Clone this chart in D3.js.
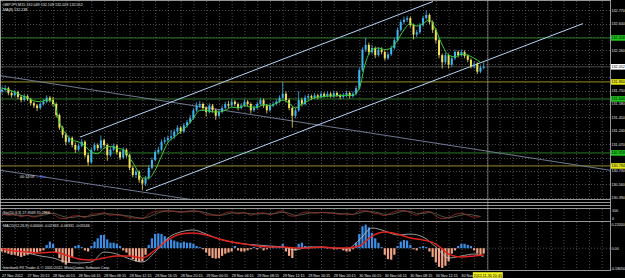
<!DOCTYPE html>
<html>
<head>
<meta charset="utf-8">
<script src="https://cdn.jsdelivr.net/npm/d3@7"></script>
<style>
html, body { margin: 0; padding: 0; background: #000; overflow: hidden; }
svg { display: block; }
text { font-family: "Liberation Sans", Arial, sans-serif; }
</style>
</head>
<body>
<div id="chart"></div>
<script>
// price bars (one per bar, open = previous close)
const firstOpen = 131.74;
const closes = [
  131.76,131.78,131.72,131.69,131.73,131.67,131.63,131.68,131.64,131.59,
  131.56,131.53,131.58,131.61,131.66,131.63,131.58,131.44,131.28,131.19,
  131.10,131.15,131.06,131.00,131.05,131.10,130.93,130.84,131.00,131.06,
  131.02,131.12,131.06,130.93,131.00,131.05,130.97,130.90,131.00,130.93,
  130.77,130.68,130.72,130.62,130.57,130.64,130.77,130.87,130.97,131.00,
  131.10,131.12,131.15,131.17,131.23,131.28,131.23,131.31,131.35,131.40,
  131.50,131.56,131.58,131.53,131.48,131.56,131.50,131.43,131.48,131.53,
  131.58,131.56,131.61,131.58,131.53,131.56,131.61,131.58,131.50,131.53,
  131.58,131.63,131.56,131.50,131.56,131.58,131.61,131.66,131.71,131.63,
  131.53,131.43,131.50,131.63,131.58,131.66,131.68,131.66,131.69,131.67,
  131.71,131.68,131.71,131.68,131.72,131.69,131.67,131.69,131.72,131.68,
  131.71,131.78,132.01,132.27,132.33,132.24,132.29,132.20,132.27,132.24,
  132.16,132.21,132.29,132.39,132.52,132.62,132.65,132.67,132.58,132.46,
  132.49,132.58,132.67,132.71,132.62,132.52,132.39,132.20,132.11,132.20,
  132.08,132.16,132.24,132.20,132.24,132.19,132.14,132.06,132.09,131.99,
  132.04,132.05
];
const highs = [
  131.80,131.82,131.80,131.75,131.76,131.75,131.69,131.71,131.70,131.66,
  131.61,131.58,131.60,131.64,131.69,131.68,131.67,131.60,131.46,131.30,
  131.22,131.18,131.17,131.09,131.08,131.14,131.12,130.96,131.03,131.09,
  131.08,131.18,131.14,131.08,131.03,131.08,131.07,130.99,131.03,131.02,
  130.95,130.79,130.75,130.74,130.64,130.67,130.80,130.90,131.00,131.04,
  131.13,131.16,131.18,131.25,131.26,131.31,131.30,131.34,131.38,131.44,
  131.53,131.60,131.62,131.60,131.55,131.59,131.58,131.52,131.51,131.56,
  131.61,131.62,131.64,131.63,131.60,131.59,131.64,131.63,131.60,131.56,
  131.61,131.66,131.65,131.58,131.59,131.61,131.64,131.69,131.86,131.74,
  131.65,131.55,131.53,131.74,131.66,131.69,131.71,131.70,131.72,131.71,
  131.74,131.73,131.74,131.73,131.75,131.74,131.71,131.72,131.75,131.74,
  131.74,131.81,132.04,132.30,132.42,132.36,132.33,132.31,132.30,132.30,
  132.26,132.24,132.32,132.42,132.55,132.65,132.69,132.70,132.69,132.60,
  132.52,132.61,132.70,132.77,132.73,132.64,132.54,132.41,132.22,132.23,
  132.22,132.19,132.27,132.26,132.27,132.26,132.21,132.16,132.12,132.11,
  132.07,132.11
];
const lows = [
  131.71,131.73,131.69,131.66,131.67,131.64,131.60,131.61,131.62,131.56,
  131.53,131.49,131.51,131.56,131.59,131.60,131.55,131.41,131.25,131.15,
  131.06,131.08,131.03,130.96,130.98,131.03,130.90,130.80,130.82,130.98,
  130.99,131.00,131.03,130.86,130.91,130.98,130.94,130.87,130.88,130.90,
  130.74,130.65,130.64,130.58,130.49,130.54,130.62,130.75,130.85,130.94,
  130.98,131.07,131.09,131.12,131.14,131.20,131.20,131.21,131.28,131.33,
  131.38,131.48,131.53,131.50,131.42,131.46,131.47,131.38,131.41,131.46,
  131.51,131.53,131.54,131.55,131.50,131.51,131.54,131.55,131.46,131.48,
  131.51,131.56,131.53,131.46,131.48,131.54,131.56,131.59,131.64,131.60,
  131.50,131.28,131.40,131.48,131.55,131.56,131.63,131.63,131.64,131.64,
  131.65,131.66,131.66,131.66,131.66,131.67,131.64,131.65,131.67,131.65,
  131.66,131.69,131.76,131.99,132.24,132.20,132.21,132.16,132.18,132.21,
  132.13,132.14,132.19,132.27,132.37,132.50,132.59,132.62,132.55,132.40,
  132.43,132.47,132.56,132.65,132.59,132.48,132.35,132.16,132.03,132.08,
  132.03,132.05,132.14,132.17,132.18,132.16,132.11,132.03,132.03,131.96,
  131.97,132.02
];

// moving average, read every 2 bars
const maValues = [
  131.78,131.76,131.73,131.69,131.66,131.62,131.61,131.63,131.61,131.35,
  131.20,131.12,131.10,131.05,130.97,130.95,131.02,131.04,131.02,131.00,
  130.90,130.77,130.64,130.64,130.74,130.92,131.09,131.16,131.23,131.30,
  131.40,131.50,131.50,131.48,131.48,131.50,131.54,131.53,131.56,131.54,
  131.54,131.57,131.56,131.59,131.63,131.59,131.53,131.58,131.62,131.66,
  131.67,131.68,131.68,131.69,131.69,131.69,131.78,132.11,132.27,132.29,
  132.27,132.29,132.39,132.52,132.60,132.57,132.60,132.65,132.52,132.33,
  132.20,132.18,132.21,132.20,132.16,132.11
];

// stochastic, read every 2 bars
const stochK = [
  60,45,55,30,45,25,50,75,60,15, 10,35,40,20,55,60,70,45,50,40,
  20,15,10,55,85,90,92,85,75,88, 92,80,50,45,40,70,80,60,75,45,
  65,70,50,75,90,40,35,70,80,65, 75,70,65,55,60,50,90,92,70,60,
  40,70,90,95,70,45,80,85,35,10, 20,55,65,45,25,30
];
const stochD = [
  55,52,48,42,40,35,38,55,65,45, 25,20,32,32,38,48,62,58,52,45,
  35,22,15,28,58,80,88,88,82,80, 86,85,68,52,45,52,68,70,68,60,
  58,62,60,65,78,65,45,50,65,72, 72,72,68,62,58,55,68,85,82,72,
  55,55,72,88,85,65,62,75,60,32, 18,30,48,55,45,32
];

// MACD histogram, one per bar
const macdHist = [
  -0.03,-0.04,-0.05,-0.06,-0.06,-0.07,-0.08,-0.07,-0.06,-0.05,
  -0.05,-0.04,-0.03,-0.02,0.03,0.06,0.04,-0.04,-0.09,-0.13,
  -0.15,-0.13,-0.08,0.02,0.03,0.01,-0.02,-0.03,0.02,0.06,
  0.09,0.12,0.12,0.08,0.05,0.05,0.04,0.02,-0.02,-0.04,
  -0.07,-0.10,-0.12,-0.125,-0.12,-0.06,0.03,0.09,0.13,0.135,
  0.13,0.11,0.09,0.08,0.07,0.06,0.05,0.06,0.05,0.05,
  0.04,0.02,0.01,-0.01,-0.04,-0.07,-0.09,-0.095,-0.09,-0.07,
  -0.05,-0.04,-0.03,0.02,-0.02,-0.03,-0.03,-0.02,-0.01,0.01,
  -0.01,0.01,-0.02,-0.01,0.01,0.02,0.01,0.02,0.04,-0.03,
  -0.07,-0.09,-0.02,0.04,0.05,0.02,0.01,0.015,0.01,0.005,
  0.01,0.005,-0.005,0.005,-0.01,-0.01,-0.005,-0.02,-0.03,-0.03,
  -0.01,0.05,0.13,0.2,0.215,0.19,0.14,0.09,0.05,0.01,
  -0.06,-0.1,-0.105,-0.06,0.02,0.06,0.075,0.07,0.03,-0.01,
  -0.02,0.01,0.02,0.01,-0.03,-0.08,-0.13,-0.17,-0.18,-0.16,
  -0.12,-0.05,-0.02,0.02,0.04,0.04,0.03,0.02,-0.02,-0.05,
  -0.06,-0.05
];
// MACD lines, read every 4 bars (+ last bar)
const macdLineBars = d3.range(0, 152, 4).concat([151]);
const macdSignal = [
  -0.007,-0.026,-0.035,-0.044,-0.035,-0.062,-0.098,-0.108,-0.089,-0.071,
  -0.071,-0.089,-0.016,0.075,0.129,0.139,0.12,0.084,0.057,0.038,
  0.02,0.011,0.011,0.002,0.002,0.011,0.002,0.002,0.02,0.111,
  0.148,0.129,0.093,0.075,0.038,-0.053,-0.08,-0.071,-0.062
];
const macdMain = [
  -0.007,-0.026,-0.044,-0.071,-0.089,-0.126,-0.135,-0.126,-0.035,-0.053,
  -0.098,-0.126,-0.035,0.093,0.148,0.166,0.129,0.084,0.057,0.038,
  0.029,0.02,0.011,-0.016,0.011,0.011,0.002,-0.007,0.075,0.184,
  0.157,0.12,0.129,0.102,0.011,-0.089,-0.071,-0.053,-0.08
];

// time axis labels, one every 8 bars
const timeLabels = [
  "27 Nov 2012","27 Nov 20:15","28 Nov 00:15","28 Nov 04:15","28 Nov 08:15",
  "28 Nov 12:15","28 Nov 16:15","28 Nov 20:15","29 Nov 00:15","29 Nov 04:15",
  "29 Nov 08:15","29 Nov 12:15","29 Nov 16:15","29 Nov 20:15","30 Nov 00:15",
  "30 Nov 04:15","30 Nov 08:15","30 Nov 12:15","30 Nov 16:15"
];
const priceTicks = d3.range(0, 15).map(k => +(130.39 + k * 0.17).toFixed(2));

// drawn objects: trend lines [bar, price, bar, price] and horizontal levels
const channelLines = [[24.45, 131.16, 135.1, 132.88], [45.1, 130.48, 182.1, 132.60]];
const grayLines = [[-0.63, 131.94, 190.6, 130.74], [-0.63, 130.74, 58.9, 130.37]];
const greenLevels = [132.418, 131.644, 130.959];
const oliveLevels = [131.860, 130.794];
const bidPrice = 132.052;
const cursorBar = 152.3;

const W = 625, H = 278, RIGHT = 610;
const svg = d3.select("#chart").append("svg")
    .attr("width", W).attr("height", H)
    .style("background", "#000");

const x = d3.scaleLinear().domain([0, 151]).range([2, 2 + 151 * 3.19]);
const y = d3.scaleLinear().domain([130.39, 132.77]).range([197.8, 10.2]);
const yS = d3.scaleLinear().domain([0, 100]).range([219.5, 210]);
const yM = d3.scaleLinear().domain([-0.1805, 0.2205]).range([268, 224]);

const defs = svg.append("defs");
defs.append("clipPath").attr("id", "clipMain").append("rect")
    .attr("x", 0).attr("y", 1).attr("width", RIGHT).attr("height", 198);
defs.append("clipPath").attr("id", "clipMacd").append("rect")
    .attr("x", 0).attr("y", 222).attr("width", RIGHT).attr("height", 48);

const gridColor = "#5e5e66";
// vertical grid in all panels
const gridBars = d3.range(0, 190, 4).filter(i => x(i) < RIGHT);
[[1, 199], [209, 221], [222, 270]].forEach(([a, b]) => {
    svg.append("g").selectAll("line").data(gridBars).enter().append("line")
        .attr("x1", d => x(d) + 0.5).attr("x2", d => x(d) + 0.5)
        .attr("y1", a).attr("y2", b)
        .attr("stroke", gridColor).attr("stroke-width", 0.8)
        .attr("stroke-dasharray", "1,2");
});
// horizontal grid main
svg.append("g").selectAll("line").data(priceTicks).enter().append("line")
    .attr("x1", 0).attr("x2", RIGHT)
    .attr("y1", d => Math.round(y(d)) + 0.5).attr("y2", d => Math.round(y(d)) + 0.5)
    .attr("stroke", gridColor).attr("stroke-width", 0.8)
    .attr("stroke-dasharray", "1,2");
// macd zero level
svg.append("line").attr("x1", 0).attr("x2", RIGHT)
    .attr("y1", yM(0)).attr("y2", yM(0))
    .attr("stroke", gridColor).attr("stroke-width", 0.8).attr("stroke-dasharray", "1,2");

const main = svg.append("g").attr("clip-path", "url(#clipMain)");

// horizontal levels
main.selectAll(".lvG").data(greenLevels).enter().append("line")
    .attr("x1", 0).attr("x2", RIGHT)
    .attr("y1", d => y(d)).attr("y2", d => y(d))
    .attr("stroke", "#2f7a2a").attr("stroke-width", 1);
main.selectAll(".lvO").data(oliveLevels).enter().append("line")
    .attr("x1", 0).attr("x2", RIGHT)
    .attr("y1", d => y(d)).attr("y2", d => y(d))
    .attr("stroke", "#77701e").attr("stroke-width", 1.2);
main.append("line").attr("x1", 0).attr("x2", RIGHT)
    .attr("y1", y(bidPrice)).attr("y2", y(bidPrice))
    .attr("stroke", "#777").attr("stroke-width", 0.6);

// trend lines
main.selectAll(".gl").data(grayLines).enter().append("line")
    .attr("x1", d => x(d[0])).attr("y1", d => y(d[1]))
    .attr("x2", d => x(d[2])).attr("y2", d => y(d[3]))
    .attr("stroke", "#7a86a0").attr("stroke-width", 0.9);
main.selectAll(".cl").data(channelLines).enter().append("line")
    .attr("x1", d => x(d[0])).attr("y1", d => y(d[1]))
    .attr("x2", d => x(d[2])).attr("y2", d => y(d[3]))
    .attr("stroke", "#b4d4f4").attr("stroke-width", 1);

// candles
const bars = closes.map((c, i) => ({
    i, o: i === 0 ? firstOpen : closes[i - 1], c, h: highs[i], l: lows[i]
}));
const upCol = "#3eb6f2", dnCol = "#f2e25a";
const cg = main.append("g");
cg.selectAll("line").data(bars).enter().append("line")
    .attr("x1", d => x(d.i)).attr("x2", d => x(d.i))
    .attr("y1", d => y(d.h)).attr("y2", d => y(d.l))
    .attr("stroke", d => d.c >= d.o ? upCol : dnCol).attr("stroke-width", 0.8);
cg.selectAll("rect").data(bars).enter().append("rect")
    .attr("x", d => x(d.i) - 1).attr("width", 2)
    .attr("y", d => y(Math.max(d.o, d.c)))
    .attr("height", d => Math.max(0.8, Math.abs(y(d.o) - y(d.c))))
    .attr("fill", d => d.c >= d.o ? upCol : dnCol);

// moving average
main.append("path")
    .datum(maValues)
    .attr("d", d3.line().x((d, k) => x(k * 2)).y(d => y(d)).curve(d3.curveMonotoneX))
    .attr("fill", "none").attr("stroke", "#3ccf3c").attr("stroke-width", 1);

// cursor vertical line
svg.append("line").attr("x1", x(cursorBar)).attr("x2", x(cursorBar))
    .attr("y1", 1).attr("y2", 270)
    .attr("stroke", "#9a9a9a").attr("stroke-width", 0.7);

const fs = 3.7;
// timer text
svg.append("text").attr("x", 20).attr("y", 177.5).attr("font-size", fs)
    .attr("fill", "#e8e8e8").text("00:14:59");
svg.append("text").attr("x", 35.5).attr("y", 177.5).attr("font-size", fs)
    .attr("fill", "#4a6cff").text("\u2190 Bar");

// stochastic
const stLine = d3.line().x((d, k) => x(k * 2)).y(d => yS(d)).curve(d3.curveMonotoneX);
svg.append("path").datum(stochD).attr("d", stLine)
    .attr("fill", "none").attr("stroke", "#6d7a62").attr("stroke-width", 0.7);
svg.append("path").datum(stochK).attr("d", stLine)
    .attr("fill", "none").attr("stroke", "#a3302c").attr("stroke-width", 0.8);

// MACD
const mg = svg.append("g").attr("clip-path", "url(#clipMacd)");
mg.selectAll("rect").data(macdHist).enter().append("rect")
    .attr("x", (d, i) => x(i) - 1.1).attr("width", 2.2)
    .attr("y", d => yM(Math.max(0, d)))
    .attr("height", d => Math.abs(yM(d) - yM(0)))
    .attr("fill", d => d >= 0 ? "#3d8fe6" : "#f2a486");
const mLine = d3.line().x((d, k) => x(macdLineBars[k])).y(d => yM(d)).curve(d3.curveMonotoneX);
mg.append("path").datum(macdMain).attr("d", mLine)
    .attr("fill", "none").attr("stroke", "#d8d8d8").attr("stroke-width", 0.7);
mg.append("path").datum(macdSignal).attr("d", mLine)
    .attr("fill", "none").attr("stroke", "#e2231e").attr("stroke-width", 1.4);

// panel frames
const frame = "#bdbdbd";
[199.5, 202.5, 205.5, 208.5, 221.5, 270.5].forEach(v => {
    svg.append("line").attr("x1", 0).attr("x2", RIGHT + 0.5)
        .attr("y1", v).attr("y2", v).attr("stroke", frame).attr("stroke-width", 0.8);
});
svg.append("line").attr("x1", 0).attr("x2", RIGHT + 0.5).attr("y1", 0.5).attr("y2", 0.5)
    .attr("stroke", frame).attr("stroke-width", 0.8);
svg.append("line").attr("x1", 0.5).attr("x2", 0.5).attr("y1", 0).attr("y2", 271)
    .attr("stroke", frame).attr("stroke-width", 0.8);
svg.append("line").attr("x1", RIGHT + 0.5).attr("x2", RIGHT + 0.5).attr("y1", 0).attr("y2", 271)
    .attr("stroke", frame).attr("stroke-width", 0.8);

// texts
const txt = (tx, ty, s, col) => svg.append("text").attr("x", tx).attr("y", ty)
    .attr("font-size", fs).attr("fill", col || "#e6e6e6").text(s);
txt(3, 6, "GBPJPY,M15  132.049 132.109 132.023 132.052");
txt(3, 11, "MA(8) 132.138");
txt(3, 213.5, "Sto(10,3,3) 27.3569 31.2966");
txt(3, 227, "MACD(12,26,9) 0.00000 -0.02363 -0.06331 -0.05546");
txt(3, 269, "Interbank FX Trader 4, \u00a9 2001-2012, MetaQuotes Software Corp.");

// price axis (labels hidden where a level tag covers them)
const tagPrices = greenLevels.concat(oliveLevels, [bidPrice]);
const visibleTicks = priceTicks.filter(v => tagPrices.every(t => Math.abs(y(t) - y(v)) > 5));
svg.append("g").selectAll("text").data(visibleTicks).enter().append("text")
    .attr("x", 611.5).attr("y", d => y(d) + 1.4)
    .attr("font-size", fs).attr("fill", "#e6e6e6")
    .text(d => d.toFixed(3));
txt(612, 211.5, "100");
txt(612, 220, "0");
txt(611.5, 226, "0.22050");
txt(611.5, yM(0) + 1.4, "0.00");
txt(610.8, 269.5, "-0.18050");

// level tags
function tag(v, fill, label) {
    svg.append("rect").attr("x", 611).attr("y", y(v) - 2.8).attr("width", 14).attr("height", 5.6)
        .attr("fill", fill);
    svg.append("text").attr("x", 611.5).attr("y", y(v) + 1.4).attr("font-size", fs)
        .attr("fill", "#000").text(label);
}
greenLevels.forEach(v => tag(v, "#1fc21f", v.toFixed(3)));
oliveLevels.forEach(v => tag(v, "#e4e41a", v.toFixed(3)));
tag(bidPrice, "#ffffff", bidPrice.toFixed(3));

// time axis
svg.append("g").selectAll("text").data(timeLabels).enter().append("text")
    .attr("x", (d, k) => x(k * 8)).attr("y", 276.5)
    .attr("font-size", fs).attr("fill", "#e6e6e6")
    .text(d => d);
svg.append("rect").attr("x", x(cursorBar) - 15).attr("y", 272.2).attr("width", 30).attr("height", 5.6)
    .attr("fill", "#f0f020");
svg.append("text").attr("x", x(cursorBar)).attr("y", 276.5).attr("text-anchor", "middle")
    .attr("font-size", fs).attr("fill", "#000").text("2012.11.30 20:45");
</script>
</body>
</html>
